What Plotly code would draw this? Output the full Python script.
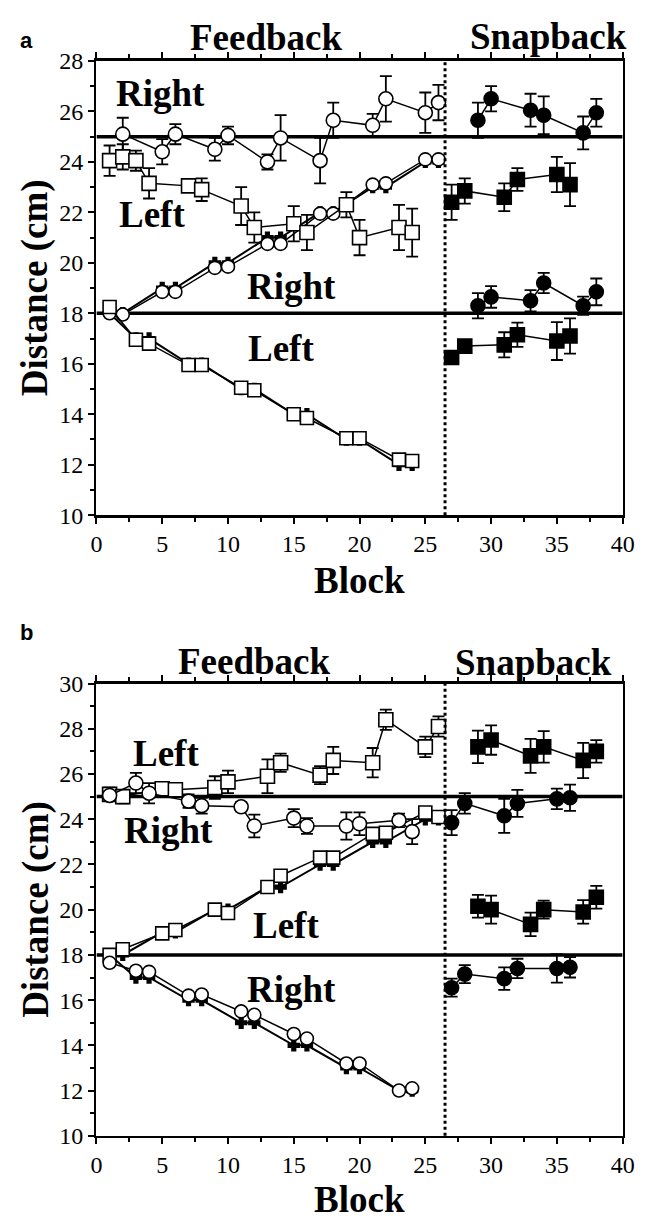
import plotly.graph_objects as go

# ---------------- data: panel a ----------------
a_const_right_x = [2, 5, 6, 9, 10, 13, 14, 17, 18, 21, 22, 25, 26]
a_const_right_y = [25.1, 24.4, 25.1, 24.5, 25.05, 24.0, 24.95, 24.05, 25.65, 25.45, 26.5, 25.95, 26.35]
a_const_right_e = [0.65, 0.5, 0.4, 0.45, 0.35, 0.3, 0.9, 0.9, 0.7, 0.45, 0.9, 0.8, 0.7]

a_const_left_x = [1, 2, 3, 4, 7, 8, 11, 12, 15, 16, 19, 20, 23, 24]
a_const_left_y = [24.05, 24.2, 24.05, 23.15, 23.05, 22.9, 22.25, 21.4, 21.55, 21.2, 22.3, 21.0, 21.4, 21.2]
a_const_left_e = [0.6, 0.5, 0.4, 0.6, 0.2, 0.45, 0.75, 0.6, 0.7, 0.7, 0.5, 0.7, 0.9, 0.95]

a_up_x = [1, 2, 5, 6, 9, 10, 13, 14, 17, 18, 21, 22, 25, 26]
a_up_target = [18, 18, 19, 19, 20, 20, 21, 21, 22, 22, 23, 23, 24, 24]
a_up_y = [18.0, 17.95, 18.85, 18.85, 19.8, 19.85, 20.75, 20.75, 21.95, 21.95, 23.1, 23.15, 24.1, 24.1]

a_down_x = [1, 3, 4, 7, 8, 11, 12, 15, 16, 19, 20, 23, 24]
a_down_target = [18, 17, 17, 16, 16, 15, 15, 14, 14, 13, 13, 12, 12]
a_down_y = [18.25, 16.95, 16.8, 15.95, 15.95, 15.05, 14.95, 14.0, 13.85, 13.05, 13.05, 12.2, 12.15]

a_snap_right_x = [29, 30, 33, 34, 37, 38]
a_snap_right_hi = [25.65, 26.5, 26.05, 25.85, 25.15, 25.95]
a_snap_right_hi_e = [0.7, 0.5, 0.65, 0.75, 0.65, 0.55]
a_snap_right_lo = [18.3, 18.65, 18.5, 19.2, 18.3, 18.85]
a_snap_right_lo_e = [0.5, 0.43, 0.42, 0.4, 0.36, 0.53]

a_snap_left_x = [27, 28, 31, 32, 35, 36]
a_snap_left_hi = [22.4, 22.85, 22.6, 23.3, 23.5, 23.1]
a_snap_left_hi_e = [0.7, 0.5, 0.55, 0.45, 0.7, 0.85]
a_snap_left_lo = [16.25, 16.7, 16.75, 17.15, 16.9, 17.1]
a_snap_left_lo_e = [0.2, 0.15, 0.5, 0.48, 0.75, 0.7]

# ---------------- data: panel b ----------------
b_const_left_x = [1, 2, 5, 6, 9, 10, 13, 14, 17, 18, 21, 22, 25, 26]
b_const_left_y = [25.1, 25.0, 25.35, 25.3, 25.4, 25.65, 25.9, 26.5, 25.95, 26.6, 26.5, 28.4, 27.2, 28.1]
b_const_left_e = [0.3, 0.3, 0.3, 0.3, 0.5, 0.5, 0.75, 0.4, 0.4, 0.6, 0.65, 0.45, 0.45, 0.45]

b_const_right_x = [1, 3, 4, 7, 8, 11, 12, 15, 16, 19, 20, 23, 24]
b_const_right_y = [25.05, 25.6, 25.15, 24.8, 24.6, 24.55, 23.7, 24.05, 23.7, 23.7, 23.8, 23.95, 23.45]
b_const_right_e = [0.2, 0.45, 0.45, 0.3, 0.35, 0.2, 0.5, 0.4, 0.35, 0.6, 0.5, 0.3, 0.55]

b_up_x = [1, 2, 5, 6, 9, 10, 13, 14, 17, 18, 21, 22, 25, 26]
b_up_target = [18, 18, 19, 19, 20, 20, 21, 21, 22, 22, 23, 23, 24, 24]
b_up_y = [18.0, 18.25, 18.95, 19.1, 20.0, 19.85, 21.0, 21.5, 22.3, 22.3, 23.35, 23.4, 24.3, 24.1]

b_down_x = [1, 3, 4, 7, 8, 11, 12, 15, 16, 19, 20, 23, 24]
b_down_target = [18, 17, 17, 16, 16, 15, 15, 14, 14, 13, 13, 12, 12]
b_down_y = [17.65, 17.3, 17.25, 16.2, 16.25, 15.5, 15.35, 14.5, 14.3, 13.2, 13.2, 12.0, 12.1]

b_snap_right_x = [27, 28, 31, 32, 35, 36]
b_snap_right_hi = [23.85, 24.7, 24.15, 24.7, 24.9, 24.95]
b_snap_right_hi_e = [0.55, 0.45, 0.75, 0.6, 0.45, 0.58]
b_snap_right_lo = [16.55, 17.15, 16.95, 17.4, 17.4, 17.45]
b_snap_right_lo_e = [0.4, 0.4, 0.5, 0.43, 0.63, 0.45]

b_snap_left_x = [29, 30, 33, 34, 37, 38]
b_snap_left_hi = [27.2, 27.5, 26.8, 27.2, 26.6, 27.0]
b_snap_left_hi_e = [0.72, 0.65, 0.75, 0.7, 0.78, 0.5]
b_snap_left_lo = [20.15, 20.0, 19.35, 20.0, 19.9, 20.55]
b_snap_left_lo_e = [0.5, 0.62, 0.52, 0.4, 0.52, 0.5]

x_ticks = [0, 5, 10, 15, 20, 25, 30, 35, 40]
a_y_ticks = [10, 12, 14, 16, 18, 20, 22, 24, 26, 28]
b_y_ticks = [10, 12, 14, 16, 18, 20, 22, 24, 26, 28, 30]

SERIF = "Liberation Serif, Times New Roman, serif"
W, H = 657, 1232

fig = go.Figure()


def series(x, y, err, symbol, fill, size, xa, ya, lw=1.5):
    fig.add_trace(go.Scatter(
        x=x, y=y, mode="lines+markers", xaxis=xa, yaxis=ya,
        line=dict(color="black", width=lw),
        marker=dict(symbol=symbol, size=size, color=fill,
                    line=dict(color="black", width=1.6)),
        error_y=dict(type="data", array=err, visible=err is not None,
                     color="black", thickness=1.8, width=6),
        showlegend=False, hoverinfo="skip"))


def panel(xa, ya, d):
    series(d["up_x"], d["up_t"], None, "cross", "black", 9, xa, ya, 2)
    series(d["down_x"], d["down_t"], None, "cross", "black", 9, xa, ya, 2)
    series(d["up_x"], d["up_y"], None, d["up_sym"], "white", 13, xa, ya)
    series(d["down_x"], d["down_y"], None, d["down_sym"], "white", 13, xa, ya)
    series(d["c1_x"], d["c1_y"], d["c1_e"], d["c1_sym"], "white", 14, xa, ya)
    series(d["c2_x"], d["c2_y"], d["c2_e"], d["c2_sym"], "white", 14, xa, ya)
    for sx, sy, se, sym in d["snap"]:
        series(sx, sy, se, sym, "black", 14, xa, ya)


panel("x", "y", dict(
    up_x=a_up_x, up_t=a_up_target, up_y=a_up_y, up_sym="circle",
    down_x=a_down_x, down_t=a_down_target, down_y=a_down_y, down_sym="square",
    c1_x=a_const_right_x, c1_y=a_const_right_y, c1_e=a_const_right_e, c1_sym="circle",
    c2_x=a_const_left_x, c2_y=a_const_left_y, c2_e=a_const_left_e, c2_sym="square",
    snap=[(a_snap_right_x, a_snap_right_hi, a_snap_right_hi_e, "circle"),
          (a_snap_right_x, a_snap_right_lo, a_snap_right_lo_e, "circle"),
          (a_snap_left_x, a_snap_left_hi, a_snap_left_hi_e, "square"),
          (a_snap_left_x, a_snap_left_lo, a_snap_left_lo_e, "square")]))

panel("x2", "y2", dict(
    up_x=b_up_x, up_t=b_up_target, up_y=b_up_y, up_sym="square",
    down_x=b_down_x, down_t=b_down_target, down_y=b_down_y, down_sym="circle",
    c1_x=b_const_left_x, c1_y=b_const_left_y, c1_e=b_const_left_e, c1_sym="square",
    c2_x=b_const_right_x, c2_y=b_const_right_y, c2_e=b_const_right_e, c2_sym="circle",
    snap=[(b_snap_right_x, b_snap_right_hi, b_snap_right_hi_e, "circle"),
          (b_snap_right_x, b_snap_right_lo, b_snap_right_lo_e, "circle"),
          (b_snap_left_x, b_snap_left_hi, b_snap_left_hi_e, "square"),
          (b_snap_left_x, b_snap_left_lo, b_snap_left_lo_e, "square")]))

xdom = [93 / W, 634 / W]
a_ydom = [1 - 513 / H, 1 - 49 / H]
b_ydom = [1 - 1147 / H, 1 - 685 / H]

tickfont = dict(family=SERIF, size=24, color="black")


def xax(anchor):
    return dict(domain=xdom, anchor=anchor, range=[0, 40], tickvals=x_ticks,
                ticks="outside", ticklen=6, tickwidth=2, tickcolor="black",
                minor=dict(dtick=2.5, tick0=0, ticks="outside", ticklen=4,
                           tickwidth=2, tickcolor="black"),
                showline=True, linewidth=2.5, linecolor="black", mirror="ticks",
                showgrid=False, zeroline=False, tickfont=tickfont)


def yax(anchor, dom, rng, tv):
    return dict(domain=dom, anchor=anchor, range=rng, tickvals=tv,
                ticks="outside", ticklen=6, tickwidth=2, tickcolor="black",
                minor=dict(dtick=1, tick0=0, ticks="outside", ticklen=4,
                           tickwidth=2, tickcolor="black"),
                showline=True, linewidth=2.5, linecolor="black", mirror=True,
                showgrid=False, zeroline=False, tickfont=tickfont)


fig.update_layout(
    width=W, height=H, margin=dict(l=0, r=0, t=0, b=0),
    paper_bgcolor="white", plot_bgcolor="white",
    font=dict(family=SERIF, color="black"),
    xaxis=xax("y"), yaxis=yax("x", a_ydom, [10, 28], a_y_ticks),
    xaxis2=xax("y2"), yaxis2=yax("x2", b_ydom, [10, 30], b_y_ticks),
    yaxis3=dict(domain=a_ydom, anchor="x", overlaying="y", side="right",
                range=[10, 28], dtick=1, ticks="inside", ticklen=5, tickwidth=2,
                tickcolor="black", showticklabels=False, showgrid=False,
                zeroline=False, showline=False),
    yaxis4=dict(domain=b_ydom, anchor="x2", overlaying="y2", side="right",
                range=[10, 30], dtick=1, ticks="inside", ticklen=5, tickwidth=2,
                tickcolor="black", showticklabels=False, showgrid=False,
                zeroline=False, showline=False),
)

shapes = []
for xr, yr in (("x", "y"), ("x2", "y2")):
    for lv in (25, 18):
        shapes.append(dict(type="line", xref=xr, yref=yr, x0=0, x1=40, y0=lv, y1=lv,
                           line=dict(color="black", width=3.5), layer="below"))
    shapes.append(dict(type="line", xref=xr, yref=yr + " domain", x0=26.5, x1=26.5,
                       y0=0, y1=1, line=dict(color="black", width=3, dash="dot")))
fig.update_layout(shapes=shapes)

big = dict(family=SERIF, size=37, color="black")


def txt(t, x, y, xref="paper", yref="paper", font=big, angle=0):
    fig.add_annotation(text="<b>%s</b>" % t, x=x, y=y, xref=xref, yref=yref,
                       showarrow=False, font=font, textangle=angle,
                       xanchor="center", yanchor="middle")


fig.add_annotation(text="<b>a</b>", x=12 / W, y=1 - 13 / H, xref="paper", yref="paper",
                   showarrow=False, font=dict(family="Liberation Sans", size=22, color="black"))
fig.add_annotation(text="<b>b</b>", x=12 / W, y=1 - 633 / H, xref="paper", yref="paper",
                   showarrow=False, font=dict(family="Liberation Sans", size=22, color="black"))

txt("Feedback", 268 / W, 1 - 25 / H)
txt("Snapback", 558 / W, 1 - 24 / H)
txt("Feedback", 255 / W, 1 - 662 / H)
txt("Snapback", 542 / W, 1 - 663 / H)

txt("Distance (cm)", 30 / W, 1 - 281 / H, angle=-90)
txt("Distance (cm)", 30 / W, 1 - 916 / H, angle=-90)
txt("Block", 363 / W, 1 - 580 / H)
txt("Block", 363 / W, 1 - 1212 / H)

txt("Right", 4.9, 26.7, "x", "y")
txt("Left", 4.2, 21.9, "x", "y")
txt("Right", 14.8, 19.05, "x", "y")
txt("Left", 14.0, 16.6, "x", "y")
txt("Left", 5.3, 26.9, "x2", "y2")
txt("Right", 5.5, 23.5, "x2", "y2")
txt("Left", 14.4, 19.3, "x2", "y2")
txt("Right", 14.8, 16.45, "x2", "y2")

fig.write_html("out.html", config={"displayModeBar": False, "staticPlot": True},
               post_script="document.body.style.margin='0';document.body.style.overflow='hidden';")
